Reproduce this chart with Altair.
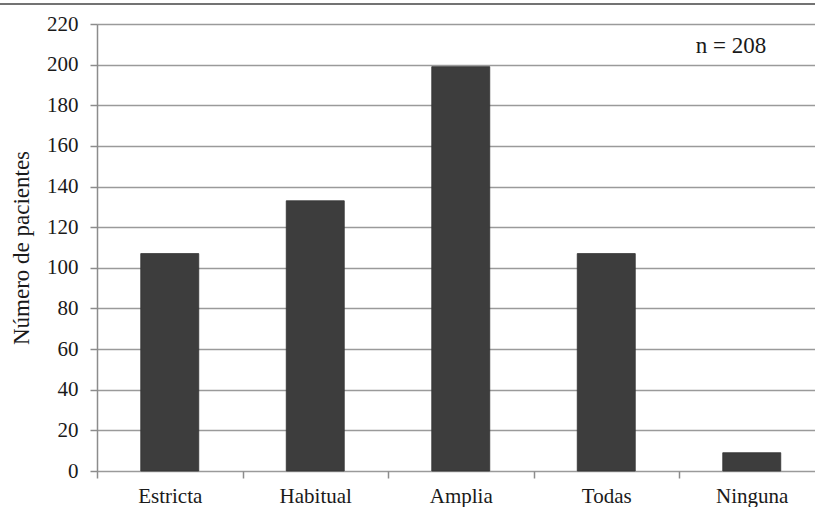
import altair as alt
import pandas as pd

categories = ["Estricta", "Habitual", "Amplia", "Todas", "Ninguna"]
patients = [107, 133, 199, 107, 9]
y_ticks = [0, 20, 40, 60, 80, 100, 120, 140, 160, 180, 200, 220]
note = "n = 208"

df = pd.DataFrame({"cat": categories, "n": patients})
FONT = "Liberation Serif"
FS = 21

bars = alt.Chart(df).mark_bar(size=58, color="#3d3d3d", stroke="#333333", strokeWidth=0.8).encode(
    x=alt.X("cat:N", sort=categories,
            scale=alt.Scale(range=[0, 727.5], paddingInner=0, paddingOuter=0),
            axis=alt.Axis(title=None, labelAngle=0, domain=False, tickBand="extent",
                          ticks=True, tickSize=7, tickColor="#8c8c8c", tickWidth=1.5,
                          labelPadding=7, labelFont=FONT, labelFontSize=FS,
                          labelColor="#1a1a1a", grid=False)),
    y=alt.Y("n:Q", scale=alt.Scale(domain=[0, 220], nice=False),
            axis=alt.Axis(title="Número de pacientes", values=y_ticks,
                          domain=True, domainColor="#8c8c8c", domainWidth=1.5,
                          ticks=True, tickSize=7, tickColor="#8c8c8c", tickWidth=1.5,
                          grid=True, gridColor="#9a9a9a", gridWidth=1.5,
                          labelPadding=12, labelFont=FONT, labelFontSize=FS,
                          labelColor="#1a1a1a",
                          titleFont=FONT, titleFontSize=23, titleFontWeight="normal",
                          titleColor="#1a1a1a", titlePadding=13)),
)

text = alt.Chart(alt.Data(values=[{"t": note}])).mark_text(
    font=FONT, fontSize=23, color="#1a1a1a", align="center", baseline="alphabetic"
).encode(text="t:N", x=alt.value(634), y=alt.value(29))

topline = alt.Chart(alt.Data(values=[{"a": 1}])).mark_rule(color="#444444", strokeWidth=1.5).encode(
    x=alt.value(-97), x2=alt.value(718), y=alt.value(-20)
)

chart = alt.layer(bars, text, topline).properties(
    width=718, height=447,
    padding={"left": 97, "top": 24, "right": 0, "bottom": 36},
    autosize="none",
).configure_view(stroke=None).configure(background="white")

chart.save("out.html", embed_options={"renderer": "svg", "actions": False})
